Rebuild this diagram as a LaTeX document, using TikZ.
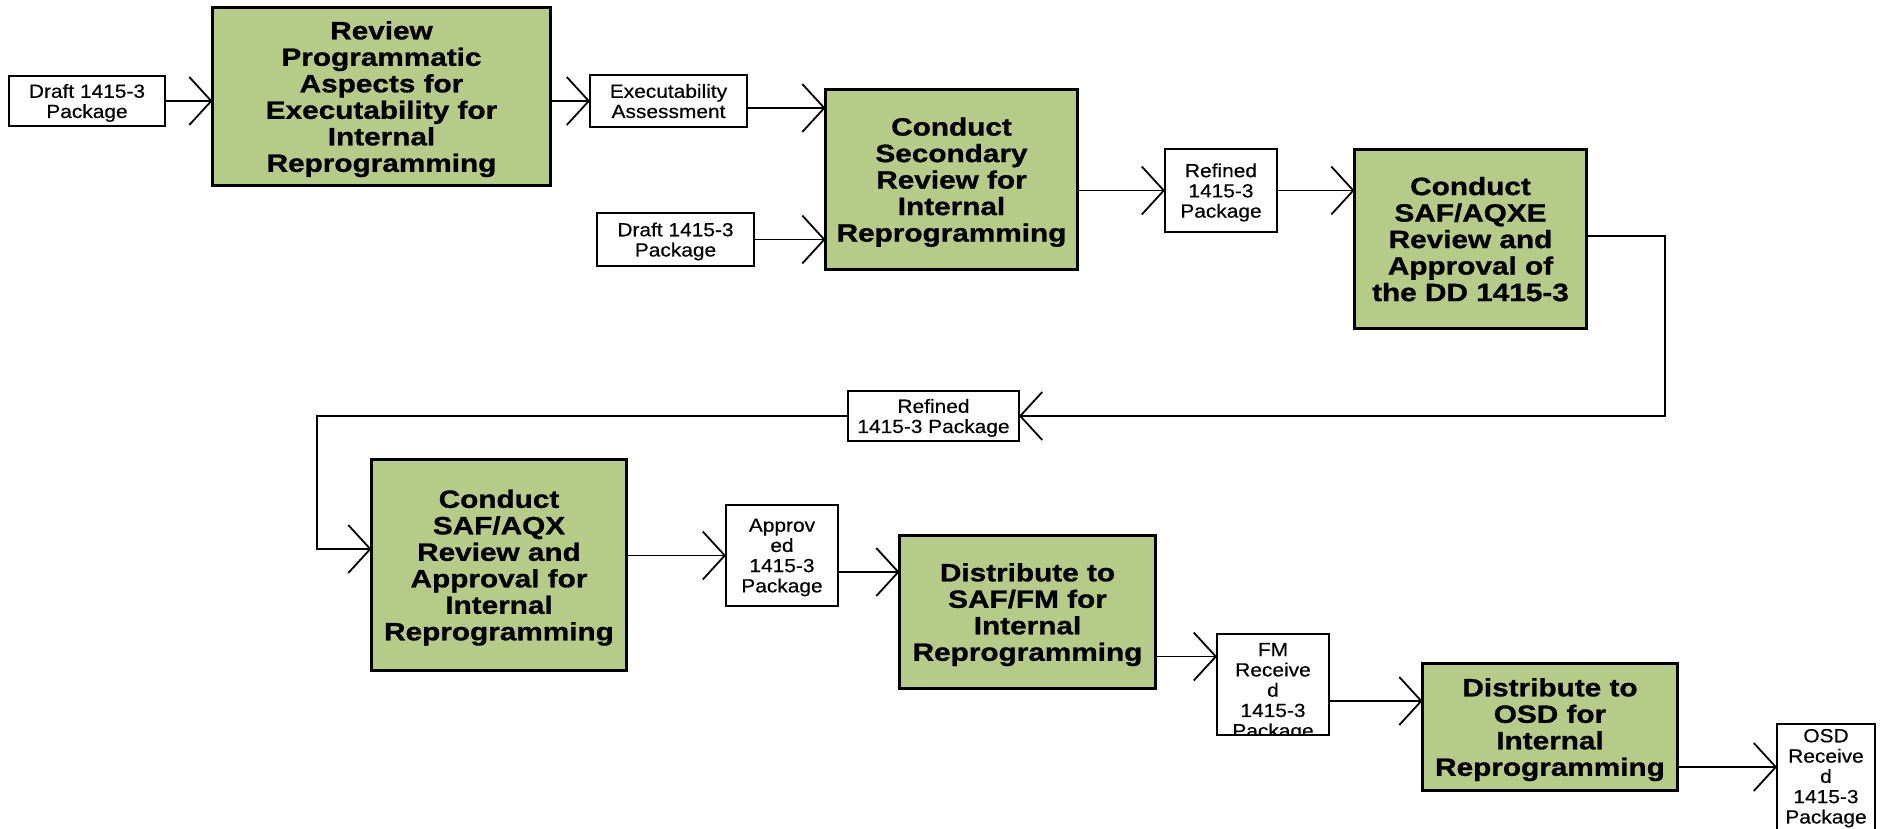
\documentclass[tikz,border=0pt]{standalone}
\usepackage{fontspec}
\setmainfont{Liberation Sans}
\newfontfamily\gfont[FakeStretch=1.19,FakeBold=1.0]{Liberation Sans}
\newfontfamily\sfont[FakeStretch=1.10,FakeBold=0.4]{Liberation Sans}
\usetikzlibrary{arrows.meta,calc}
\definecolor{gfill}{RGB}{183,203,137}
\begin{document}
\begin{tikzpicture}[x=1pt,y=-1pt,
 gbox/.style={draw=black, line width=3.5pt, fill=gfill, inner sep=0pt, outer sep=0pt, align=center, text depth=0pt, font=\gfont\bfseries\fontsize{25}{26.5}\selectfont},
 sbox/.style={draw=black, line width=2.5pt, fill=white, inner sep=0pt, outer sep=0pt, align=center, text depth=0pt, font=\sfont\fontsize{19}{20.2}\selectfont},
 txt/.style={inner sep=0pt, outer sep=0pt, align=center, font=\sfont\fontsize{19}{20.3}\selectfont},
 arr/.style={line width=1.8pt, -{Straight Barb[length=22pt,width=48pt]}},
 ]
\clip (0,0) rectangle (1891,828);
\fill[white] (0,0) rectangle (1891,828);

% process boxes
\node[gbox, minimum width=338pt, minimum height=178pt] (G1) at (381.5,96.5) {Review\\Programmatic\\Aspects for\\Executability for\\Internal\\Reprogramming};
\node[gbox, minimum width=252pt, minimum height=180pt] (G2) at (951.5,179.5) {Conduct\\Secondary\\Review for\\Internal\\Reprogramming};
\node[gbox, minimum width=232pt, minimum height=179pt] (G3) at (1470.5,239) {Conduct\\SAF/AQXE\\Review and\\Approval of\\the DD 1415-3};
\node[gbox, minimum width=255pt, minimum height=211pt] (G4) at (499,565) {Conduct\\SAF/AQX\\Review and\\Approval for\\Internal\\Reprogramming};
\node[gbox, minimum width=256pt, minimum height=153pt] (G5) at (1027.5,612) {Distribute to\\SAF/FM for\\Internal\\Reprogramming};
\node[gbox, minimum width=255pt, minimum height=127pt] (G6) at (1550,727) {Distribute to\\OSD for\\Internal\\Reprogramming};

% data boxes
\node[sbox, minimum width=156pt, minimum height=50pt] (dA) at (87,101) {Draft 1415-3\\Package};
\node[sbox, minimum width=157pt, minimum height=52pt] (Exec) at (668.5,101) {Executability\\Assessment};
\node[sbox, minimum width=157pt, minimum height=53pt] (dB) at (675.5,239.5) {Draft 1415-3\\Package};
\node[sbox, minimum width=112pt, minimum height=83pt] (R1) at (1221,190.5) {Refined\\1415-3\\Package};
\node[sbox, minimum width=171pt, minimum height=50pt] (R2) at (933.5,416) {Refined\\1415-3 Package};
\node[sbox, minimum width=112pt, minimum height=101pt] (Ap) at (782,555.5) {Approv\\ed\\1415-3\\Package};
\node[sbox, minimum width=112pt, minimum height=101pt] (FM) at (1273,684.5) {};
\node[sbox, minimum width=98pt, minimum height=116pt] (OSD) at (1826,782) {};

\begin{scope}
\clip ($(FM.south west)+(1.25,-1.25)$) rectangle ($(FM.north east)+(-1.25,1.25)$);
\node[txt, anchor=north] (FMt) at ($(FM.north)+(0,9)$) {FM\\Receive\\d\\1415-3\\Package};
\end{scope}
\begin{scope}
\clip ($(OSD.south west)+(1.25,-1.25)$) rectangle ($(OSD.north east)+(-1.25,1.25)$);
\node[txt, anchor=north] (OSDt) at ($(OSD.north)+(0,5)$) {OSD\\Receive\\d\\1415-3\\Package};
\end{scope}

% helper coordinates
\coordinate (e1) at ($(Exec.east)+(0,7)$);
\coordinate (g3o) at ($(G3.east)+(0,-3)$);
\coordinate (c1) at (1665,0);
\coordinate (c2) at (317,0);
\coordinate (g4i) at ($(G4.west)+(0,-16)$);
\coordinate (a1) at ($(Ap.east)+(0,16.5)$);
\coordinate (f0) at ($(FM.west)+(0,-28)$);
\coordinate (f1) at ($(FM.east)+(0,16.5)$);
\coordinate (o1) at ($(G6.east)+(0,40)$);

% connectors
\draw[arr] (dA.east) -- (dA.east -| G1.west);
\draw[arr] (Exec.west -| G1.east) -- (Exec.west);
\draw[arr] (e1) -- (e1 -| G2.west);
\draw[arr] (dB.east) -- (dB.east -| G2.west);
\draw[arr] (R1.west -| G2.east) -- (R1.west);
\draw[arr] (R1.east) -- (R1.east -| G3.west);
\draw[arr] (g3o) -| (c1 |- R2.east) -- (R2.east);
\draw[arr] (R2.west) -| (c2 |- g4i) -- (g4i);
\draw[arr] (Ap.west -| G4.east) -- (Ap.west);
\draw[arr] (a1) -- (a1 -| G5.west);
\draw[arr] (f0 -| G5.east) -- (f0);
\draw[arr] (f1) -- (f1 -| G6.west);
\draw[arr] (o1) -- (o1 -| OSD.west);
\end{tikzpicture}
\end{document}
